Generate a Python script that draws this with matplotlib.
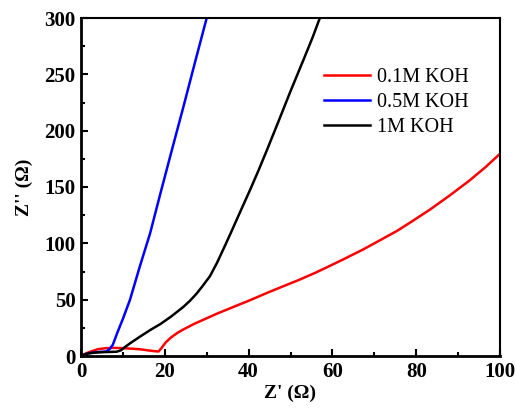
import numpy as np
import matplotlib
matplotlib.use("Agg")
import matplotlib.pyplot as plt
from matplotlib.ticker import MultipleLocator

# 0.1M KOH
red_x = [0, 1, 2, 4, 6, 8, 10, 12, 14, 16, 17.5, 18.5, 19.2, 20.2, 21.5, 23, 24.4, 27, 30, 32.4, 36, 40, 44.4, 48, 52, 56, 59.4, 63, 67.3, 71, 75.4, 79, 83.3, 88, 92.8, 96.5, 100]
red_y = [0, 2, 3.5, 6, 7, 7.2, 7, 6.5, 6, 5, 4.3, 4, 7, 12, 16.5, 20.5, 23.5, 28.5, 33.5, 37.5, 43, 49, 56, 61.5, 67.5, 74, 80, 86.5, 94.5, 102, 111, 119.5, 130, 142.5, 156, 167.5, 179.5]
# 0.5M KOH
blue_x = [0, 1, 2, 4, 6, 6.8, 7.6, 8.6, 10, 11.7, 14, 16.5, 19, 21.7, 24.5, 27.3, 30]
blue_y = [0, 1.5, 2.5, 3.5, 4, 6, 10, 20, 33, 50, 79, 109, 145, 183, 222, 262, 300]
# 1M KOH
black_x = [0, 1, 2, 4, 6, 8.5, 9.5, 10.5, 12, 14, 16.5, 19, 21.5, 24.4, 26, 27.5, 29, 30.8, 32.5, 34, 35.6, 38, 40.3, 42.4, 44.4, 47, 50, 53, 55.3, 57]
black_y = [0, 1.5, 2.5, 3.2, 3.5, 3.8, 5, 8, 12, 17, 23, 28.5, 35, 43.5, 49, 55, 62, 71, 83, 95, 108, 128, 147, 165, 183, 207, 235, 262, 283, 300]

labels = ["0.1M KOH", "0.5M KOH", "1M KOH"]

plt.rcParams['font.family'] = ['Liberation Serif', 'DejaVu Serif']

fig = plt.figure(figsize=(5.16, 4.12), dpi=100)
ax = fig.add_axes([81/516, 1 - 356/412, (500-81)/516, (356-18)/412])

ax.plot(red_x, red_y, color='#ff0000', lw=1.8, label=labels[0])
ax.plot(blue_x, blue_y, color='#0000ff', lw=1.8, label=labels[1])
ax.plot(black_x, black_y, color='black', lw=1.8, label=labels[2])

ax.set_xlim(0, 100)
ax.set_ylim(0, 300)
ax.xaxis.set_major_locator(MultipleLocator(20))
ax.xaxis.set_minor_locator(MultipleLocator(10))
ax.yaxis.set_major_locator(MultipleLocator(50))
ax.yaxis.set_minor_locator(MultipleLocator(25))

ax.tick_params(which='both', direction='in', top=False, right=False, width=1.5)
ax.tick_params(which='major', length=5, labelsize=15, pad=4)
ax.tick_params(which='minor', length=3)
for lab in ax.get_xticklabels() + ax.get_yticklabels():
    lab.set_fontweight('bold')

for side in ['left', 'bottom']:
    ax.spines[side].set_linewidth(2)
for side in ['top', 'right']:
    ax.spines[side].set_linewidth(1.5)

ax.set_xlabel("Z' (Ω)", fontsize=14, fontweight='bold', labelpad=2)
ax.set_ylabel("Z'' (Ω)", fontsize=14, fontweight='bold', labelpad=8)

ax.legend(loc='upper left', bbox_to_anchor=(0.56, 0.875), frameon=False, fontsize=14.5,
          handlelength=2.3, handletextpad=0.35, labelspacing=0.28, borderaxespad=0)

fig.savefig("out.png", dpi=100)
